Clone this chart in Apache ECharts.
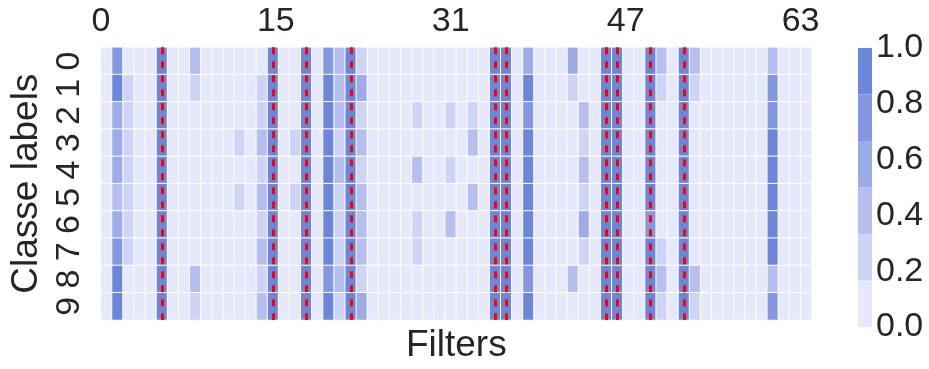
<!DOCTYPE html>
<html><head><meta charset="utf-8">
<script src="https://cdn.jsdelivr.net/npm/echarts@6/dist/echarts.min.js"></script>
<style>html,body{margin:0;padding:0;background:#fff}#c{width:929px;height:369px}</style>
</head><body><div id="c"></div>
<script>
// ---- data ----
const filters = Array.from({length: 64}, (_, i) => String(i));
const xTickPositions = [0, 15.75, 31.5, 47.25, 63];
const xTickLabels = ['0', '15', '31', '47', '63'];
const classLabels = ['0', '1', '2', '3', '4', '5', '6', '7', '8', '9'];
const highlightedFilters = [5, 15, 18, 22, 35, 36, 45, 46, 49, 52];

const class0 = [0.04,0.75,0.04,0.04,0.04,0.96,0.04,0.04, 0.42,0.04,0.04,0.04,0.04,0.04,0.04,0.96, 0.04,0.04,0.96,0.04,0.75,0.42,0.96,0.25, 0.04,0.04,0.04,0.04,0.04,0.04,0.04,0.04, 0.04,0.04,0.04,0.96,0.96,0.04,0.58,0.04, 0.04,0.04,0.58,0.04,0.04,0.96,0.96,0.04, 0.04,0.96,0.42,0.04,0.96,0.42,0.04,0.04, 0.04,0.04,0.04,0.04,0.42,0.04,0.04,0.04];
const class1 = [0.04,0.96,0.25,0.04,0.04,0.96,0.04,0.04, 0.25,0.04,0.04,0.04,0.04,0.04,0.25,0.96, 0.04,0.04,0.96,0.04,0.96,0.42,0.96,0.58, 0.04,0.04,0.04,0.04,0.04,0.04,0.04,0.04, 0.04,0.04,0.04,0.96,0.96,0.04,0.96,0.04, 0.04,0.04,0.25,0.04,0.04,0.96,0.96,0.04, 0.04,0.96,0.25,0.04,0.96,0.25,0.04,0.04, 0.04,0.04,0.04,0.04,0.75,0.04,0.04,0.04];
const class2 = [0.04,0.58,0.25,0.04,0.04,0.96,0.04,0.04, 0.04,0.04,0.04,0.04,0.04,0.04,0.25,0.96, 0.04,0.04,0.96,0.04,0.96,0.42,0.96,0.25, 0.04,0.04,0.04,0.04,0.25,0.04,0.04,0.25, 0.04,0.25,0.04,0.96,0.96,0.04,0.75,0.04, 0.04,0.04,0.04,0.42,0.04,0.96,0.96,0.04, 0.04,0.96,0.04,0.04,0.96,0.04,0.04,0.04, 0.04,0.04,0.04,0.04,0.75,0.04,0.04,0.04];
const class3 = [0.04,0.58,0.25,0.04,0.04,0.96,0.04,0.04, 0.04,0.04,0.04,0.04,0.25,0.04,0.42,0.96, 0.04,0.25,0.96,0.04,0.96,0.25,0.96,0.42, 0.04,0.04,0.04,0.04,0.04,0.04,0.04,0.04, 0.04,0.42,0.04,0.96,0.96,0.04,0.96,0.04, 0.04,0.04,0.04,0.25,0.04,0.96,0.96,0.04, 0.04,0.96,0.04,0.04,0.96,0.04,0.04,0.04, 0.04,0.04,0.04,0.04,0.96,0.04,0.04,0.04];
const class4 = [0.04,0.58,0.25,0.04,0.04,0.96,0.04,0.04, 0.04,0.04,0.04,0.04,0.04,0.04,0.25,0.96, 0.04,0.04,0.96,0.04,0.96,0.42,0.96,0.25, 0.04,0.04,0.04,0.04,0.42,0.04,0.04,0.25, 0.04,0.04,0.04,0.96,0.96,0.04,0.96,0.04, 0.04,0.04,0.04,0.42,0.04,0.96,0.96,0.04, 0.04,0.96,0.04,0.04,0.96,0.04,0.04,0.04, 0.04,0.04,0.04,0.04,0.96,0.04,0.04,0.04];
const class5 = [0.04,0.42,0.25,0.04,0.04,0.96,0.04,0.04, 0.04,0.04,0.04,0.04,0.25,0.04,0.42,0.96, 0.04,0.25,0.96,0.04,0.96,0.25,0.96,0.42, 0.04,0.04,0.04,0.04,0.04,0.04,0.04,0.04, 0.04,0.42,0.04,0.96,0.96,0.04,0.96,0.04, 0.04,0.04,0.04,0.25,0.04,0.96,0.96,0.04, 0.04,0.96,0.04,0.04,0.96,0.04,0.04,0.04, 0.04,0.04,0.04,0.04,0.96,0.04,0.04,0.04];
const class6 = [0.04,0.58,0.25,0.04,0.04,0.96,0.04,0.04, 0.04,0.04,0.04,0.04,0.04,0.04,0.25,0.96, 0.04,0.04,0.96,0.04,0.96,0.25,0.96,0.42, 0.04,0.04,0.04,0.04,0.25,0.04,0.04,0.42, 0.04,0.04,0.04,0.96,0.96,0.04,0.96,0.04, 0.04,0.04,0.04,0.58,0.04,0.96,0.96,0.04, 0.04,0.75,0.04,0.04,0.96,0.04,0.04,0.04, 0.04,0.04,0.04,0.04,0.96,0.04,0.04,0.04];
const class7 = [0.04,0.75,0.25,0.04,0.04,0.96,0.04,0.04, 0.04,0.04,0.04,0.04,0.04,0.04,0.42,0.96, 0.04,0.04,0.96,0.04,0.96,0.25,0.96,0.42, 0.04,0.04,0.04,0.04,0.25,0.04,0.04,0.04, 0.04,0.04,0.04,0.96,0.96,0.04,0.96,0.04, 0.04,0.04,0.04,0.25,0.04,0.96,0.96,0.04, 0.04,0.96,0.25,0.04,0.96,0.04,0.04,0.04, 0.04,0.04,0.04,0.04,0.96,0.04,0.04,0.04];
const class8 = [0.04,0.96,0.04,0.04,0.04,0.96,0.04,0.04, 0.42,0.04,0.04,0.04,0.04,0.04,0.25,0.96, 0.04,0.04,0.96,0.04,0.75,0.42,0.96,0.25, 0.04,0.04,0.04,0.04,0.04,0.04,0.04,0.04, 0.04,0.04,0.04,0.96,0.96,0.04,0.75,0.04, 0.04,0.04,0.42,0.04,0.04,0.96,0.96,0.04, 0.04,0.96,0.42,0.04,0.96,0.42,0.04,0.04, 0.04,0.04,0.04,0.04,0.42,0.04,0.04,0.04];
const class9 = [0.04,0.96,0.04,0.04,0.04,0.96,0.04,0.04, 0.25,0.04,0.04,0.04,0.04,0.04,0.42,0.96, 0.04,0.04,0.96,0.04,0.96,0.25,0.96,0.58, 0.04,0.04,0.04,0.04,0.04,0.04,0.04,0.04, 0.04,0.04,0.04,0.96,0.96,0.04,0.96,0.04, 0.04,0.04,0.04,0.04,0.04,0.96,0.96,0.04, 0.04,0.96,0.25,0.04,0.96,0.25,0.04,0.04, 0.04,0.04,0.04,0.04,0.75,0.04,0.04,0.04];

// ---- style ----
const levelColors = ['#e6e9fc', '#ced4f5', '#b6bff0', '#9eabe9', '#8596e2', '#6c86dc'];
const textColor = '#262626';
const fontFamily = '"Liberation Sans", Arial, sans-serif';

const rows = [class0, class1, class2, class3, class4, class5, class6, class7, class8, class9];
const heatData = [];
rows.forEach((row, r) => row.forEach((v, c) => heatData.push([c, r, v])));
const nLevels = levelColors.length;

const chart = echarts.init(document.getElementById('c'), null, {renderer: 'canvas'});
chart.setOption({
  animation: false,
  backgroundColor: '#fff',
  textStyle: {fontFamily: fontFamily},
  grid: [
    {left: 97.3, top: 47.3, width: 714.4, height: 279.4},
    {left: 858, top: 48, width: 14, height: 279}
  ],
  xAxis: [
    {type: 'category', gridIndex: 0, data: filters, position: 'bottom',
     axisLine: {show: false}, axisTick: {show: false}, axisLabel: {show: false}, splitLine: {show: false},
     name: 'Filters', nameLocation: 'middle', nameGap: 7,
     nameTextStyle: {fontSize: 37, color: textColor, fontFamily: fontFamily}},
    {type: 'value', gridIndex: 0, position: 'top', min: 0, max: filters.length,
     axisLine: {show: false}, axisTick: {show: false}, splitLine: {show: false},
     axisLabel: {customValues: xTickPositions,
       formatter: v => xTickLabels[xTickPositions.indexOf(v)],
       fontSize: 34, color: textColor, margin: 9, fontFamily: fontFamily}},
    {type: 'category', gridIndex: 1, data: ['cb'], show: false}
  ],
  yAxis: [
    {type: 'category', gridIndex: 0, data: classLabels, inverse: true,
     axisLine: {show: false}, axisTick: {show: false}, splitLine: {show: false},
     axisLabel: {rotate: 90, fontSize: 34, margin: 14, color: textColor, fontFamily: fontFamily},
     name: 'Classe labels', nameLocation: 'middle', nameGap: 52,
     nameTextStyle: {fontSize: 37, color: textColor, fontFamily: fontFamily}},
    {type: 'value', gridIndex: 1, min: 0, max: 1, interval: 0.2, position: 'right',
     axisLine: {show: false}, axisTick: {show: false}, splitLine: {show: false},
     axisLabel: {formatter: v => v.toFixed(1), fontSize: 34, margin: 4, padding: [0, 0, 6, 0],
       color: textColor, fontFamily: fontFamily}}
  ],
  visualMap: {
    type: 'piecewise', show: false, seriesIndex: 0, dimension: 2,
    pieces: levelColors.map((col, i) => ({gte: i / nLevels, lt: (i + 1) / nLevels + (i === nLevels - 1 ? 1 : 0), color: col}))
  },
  series: [
    {type: 'heatmap', xAxisIndex: 0, yAxisIndex: 0, data: heatData,
     itemStyle: {borderColor: '#ffffff', borderWidth: 1}, emphasis: {disabled: true}},
    {type: 'line', xAxisIndex: 0, yAxisIndex: 0, data: [], z: 10,
     markLine: {silent: true, symbol: 'none', label: {show: false}, animation: false,
       lineStyle: {color: '#ff0000', width: 3, type: [7, 7], dashOffset: 0, opacity: 1},
       emphasis: {disabled: true},
       data: highlightedFilters.map(c => ({xAxis: String(c)}))}}
  ].concat(levelColors.map((col, i) => ({
    type: 'bar', xAxisIndex: 2, yAxisIndex: 1, stack: 'cb', barWidth: '100%',
    data: [1 / nLevels], itemStyle: {color: col}, silent: true
  })))
});
</script></body></html>
